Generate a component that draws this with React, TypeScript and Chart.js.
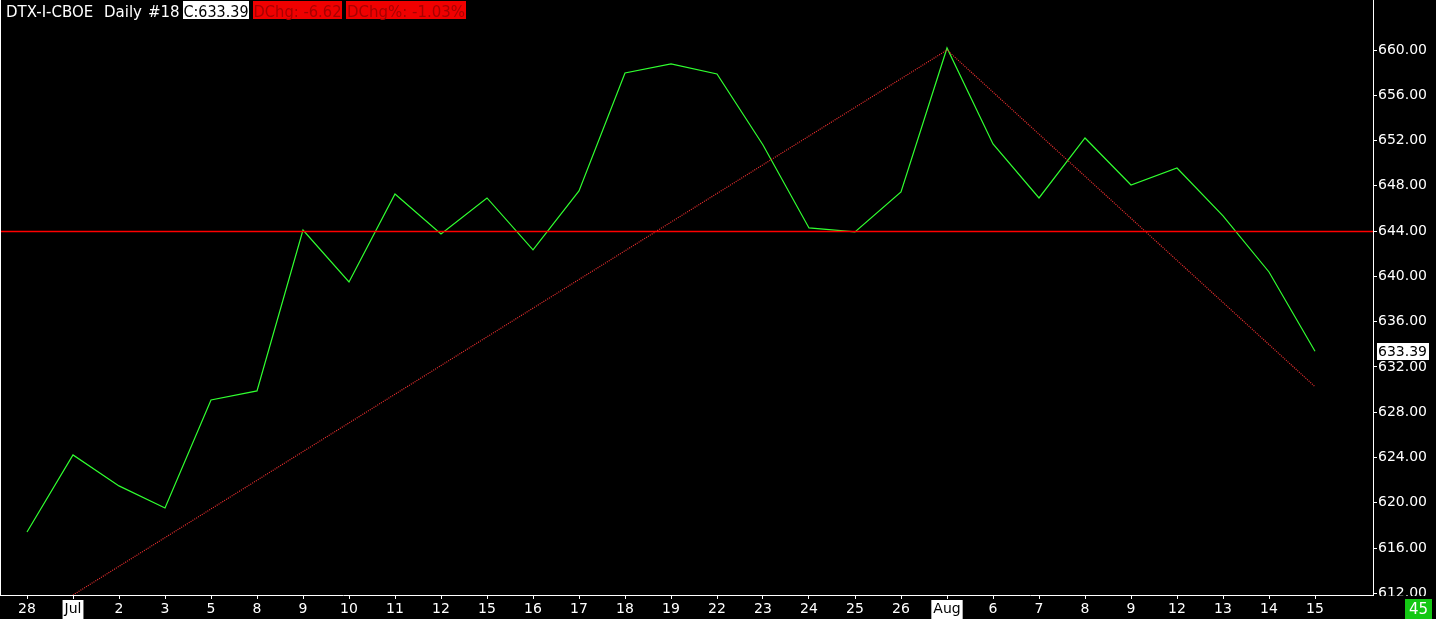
import React, { useEffect, useRef } from 'react';
import { Chart, registerables } from 'chart.js';

Chart.register(...registerables);

// ---------- data ----------
const xLabels = ['28', 'Jul', '2', '3', '5', '8', '9', '10', '11', '12', '15', '16', '17', '18', '19', '22', '23', '24', '25', '26', 'Aug', '6', '7', '8', '9', '12', '13', '14', '15'];
const closeValues = [617.42, 624.23, 621.49, 619.54, 629.08, 629.88, 644.1, 639.51, 647.28, 643.75, 646.93, 642.34, 647.55, 657.97, 658.77, 657.88, 651.61, 644.28, 643.93, 647.46, 660.18, 651.7, 646.93, 652.23, 648.08, 649.58, 645.34, 640.39, 633.39];
const yTickValues = [612, 616, 620, 624, 628, 632, 636, 640, 644, 648, 652, 656, 660];
const resistanceLevel = 643.97;
const trendIndices = [1, 20, 28];
const trendValues = [611.85, 660.0, 630.26];
const monthLabels = ['Jul', 'Aug'];

const headerSymbol = 'DTX-I-CBOE';
const headerPeriod = 'Daily';
const headerCount = '#18';
const headerClose = 'C:633.39';
const headerChg = 'DChg: -6.62';
const headerChgPct = 'DChg%: -1.03%';
const lastValue = 633.39;
const cornerLabel = '45';

const FONT = '"DejaVu Sans", sans-serif';

const overlayPlugin = {
  id: 'overlay',
  beforeDraw(chart: any) {
    const ctx = chart.ctx;
    ctx.save();
    ctx.fillStyle = '#000';
    ctx.fillRect(0, 0, chart.width, chart.height);
    ctx.restore();
  },
  afterDraw(chart: any) {
    const ctx = chart.ctx;
    const area = chart.chartArea;
    const yScale = chart.scales.y;
    ctx.save();

    // left frame edge
    ctx.fillStyle = '#fff';
    ctx.fillRect(0, 0, 1, area.bottom);

    // clip the partly drawn bottom y label
    ctx.fillStyle = '#000';
    ctx.fillRect(area.right + 1, area.bottom + 1, chart.width - area.right, chart.height - area.bottom);

    // header
    ctx.font = '15px ' + FONT;
    ctx.textBaseline = 'alphabetic';
    ctx.textAlign = 'left';
    ctx.fillStyle = '#fff';
    ctx.fillText(headerSymbol, 6, 17);
    ctx.fillText(headerPeriod, 104, 17);
    ctx.fillText(headerCount, 148, 17);

    const box = (x: number, w: number, bg: string, fg: string, text: string) => {
      ctx.fillStyle = bg;
      ctx.fillRect(x, 1, w, 18);
      ctx.fillStyle = fg;
      ctx.textAlign = 'center';
      ctx.fillText(text, x + w / 2, 17, w - 1);
      ctx.textAlign = 'left';
    };
    box(183, 66, '#fff', '#000', headerClose);
    box(253, 89, '#f00000', '#a80000', headerChg);
    box(346, 120, '#f00000', '#a80000', headerChgPct);

    // last value marker on the price axis
    const py = yScale.getPixelForValue(lastValue);
    ctx.fillStyle = '#fff';
    ctx.fillRect(area.right + 4, Math.round(py) - 8, 52, 17);
    ctx.fillStyle = '#000';
    ctx.font = '14px ' + FONT;
    ctx.textBaseline = 'middle';
    ctx.textAlign = 'left';
    ctx.fillText(lastValue.toFixed(2), area.right + 5, py + 1);

    // corner counter
    ctx.fillStyle = '#14c814';
    ctx.fillRect(1405, 599, 27, 20);
    ctx.fillStyle = '#fff';
    ctx.font = '15px ' + FONT;
    ctx.textAlign = 'center';
    ctx.fillText(cornerLabel, 1418.5, 610);

    ctx.restore();
  },
};

export default function App() {
  const ref = useRef<HTMLCanvasElement | null>(null);

  useEffect(() => {
    document.body.style.margin = '0';
    document.body.style.background = '#000';
    if (!ref.current) return;

    const chart = new Chart(ref.current, {
      type: 'line',
      data: {
        datasets: [
          {
            label: 'resistance',
            data: [
              { x: -1, y: resistanceLevel },
              { x: 30, y: resistanceLevel },
            ],
            borderColor: '#ff0000',
            borderWidth: 1.4,
            pointRadius: 0,
            tension: 0,
          },
          {
            label: 'trend',
            data: trendIndices.map((x, i) => ({ x, y: trendValues[i] })),
            borderColor: '#f03030',
            borderWidth: 1.2,
            borderDash: [1, 1.2],
            pointRadius: 0,
            tension: 0,
          },
          {
            label: 'close',
            data: closeValues.map((y, i) => ({ x: i, y })),
            borderColor: '#30ff30',
            borderWidth: 1.2,
            pointRadius: 0,
            tension: 0,
          },
        ],
      },
      options: {
        animation: false,
        responsive: true,
        maintainAspectRatio: false,
        layout: { padding: 0 },
        plugins: {
          legend: { display: false },
          tooltip: { enabled: false },
          title: { display: false },
        },
        scales: {
          x: {
            type: 'linear',
            position: 'bottom',
            min: -27 / 46,
            max: (1373 - 27) / 46,
            afterBuildTicks: (scale: any) => {
              scale.ticks = xLabels.map((_, i) => ({ value: i }));
            },
            afterFit: (scale: any) => {
              scale.height = 24;
              scale.paddingLeft = 0;
              scale.paddingRight = 0;
            },
            grid: {
              display: true,
              drawOnChartArea: false,
              drawTicks: true,
              tickLength: 4,
              color: '#fff',
            },
            border: { display: true, color: '#fff', width: 1 },
            ticks: {
              autoSkip: false,
              maxRotation: 0,
              minRotation: 0,
              padding: 2,
              font: { family: FONT, size: 14 },
              callback: (v: any) => xLabels[Math.round(v)] ?? '',
              color: (c: any) => (monthLabels.includes(c.tick?.label) ? '#000' : '#fff'),
              showLabelBackdrop: (c: any) => monthLabels.includes(c.tick?.label),
              backdropColor: '#fff',
              backdropPadding: { top: 1, bottom: 2, left: 2, right: 2 },
            } as any,
          },
          y: {
            type: 'linear',
            position: 'right',
            min: 611.85,
            max: 664.42,
            afterBuildTicks: (scale: any) => {
              scale.ticks = yTickValues.map((v) => ({ value: v }));
            },
            afterFit: (scale: any) => {
              scale.width = 63;
              scale.paddingTop = 0;
              scale.paddingBottom = 0;
            },
            grid: {
              display: true,
              drawOnChartArea: false,
              drawTicks: true,
              tickLength: 4,
              color: '#fff',
            },
            border: { display: true, color: '#fff', width: 1 },
            ticks: {
              padding: 1,
              font: { family: FONT, size: 14 },
              color: '#fff',
              callback: (v: any) => Number(v).toFixed(2),
            },
          },
        },
      },
      plugins: [overlayPlugin],
    } as any);

    return () => chart.destroy();
  }, []);

  return (
    <div style={{ position: 'fixed', left: 0, top: 0, width: 1436, height: 619, background: '#000' }}>
      <canvas ref={ref} />
    </div>
  );
}
